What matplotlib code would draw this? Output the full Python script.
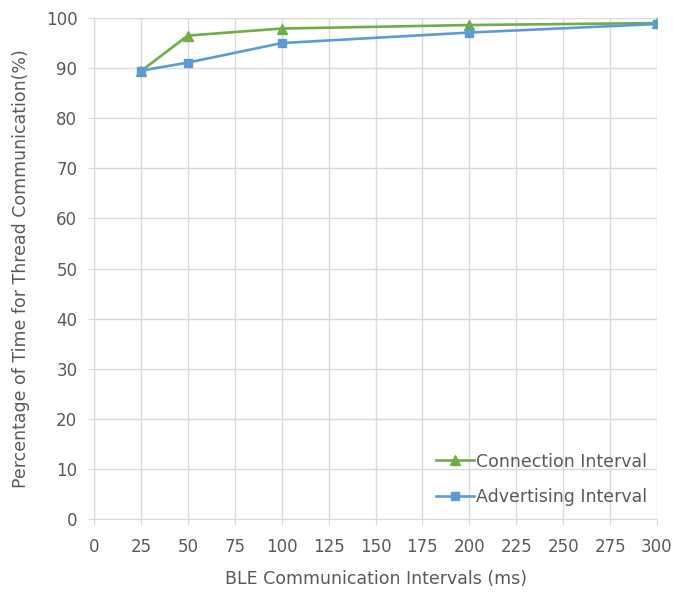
import matplotlib.pyplot as plt

intervals = [25, 50, 100, 200, 300]
connection = [89.4, 96.5, 97.9, 98.6, 99.0]
advertising = [89.5, 91.1, 95.0, 97.1, 98.8]
xticks = list(range(0, 301, 25))
yticks = list(range(0, 101, 10))

plt.rcParams['font.family'] = ['DejaVu Sans']
txt = '#595959'
fig = plt.figure(figsize=(6.73, 5.93), dpi=100)
ax = fig.add_axes([0.1397, 0.1248, 0.8365, 0.8448])

ax.plot(intervals, connection, color='#70ad47', lw=1.9, marker='^', ms=7, label='Connection Interval')
ax.plot(intervals, advertising, color='#5b9bd5', lw=1.9, marker='s', ms=6, label='Advertising Interval')

ax.set_xlim(0, 300)
ax.set_ylim(0, 100)
ax.set_xticks(xticks)
ax.set_yticks(yticks)
ax.grid(True, color='#d9d9d9', lw=1)
ax.set_axisbelow(True)
for s in ['top', 'right']:
    ax.spines[s].set_visible(False)
for s in ['left', 'bottom']:
    ax.spines[s].set_color('#d9d9d9')
ax.tick_params(axis='x', colors=txt, labelsize=12, length=4, color='#d9d9d9', pad=10)
ax.tick_params(axis='y', colors=txt, labelsize=12, length=4, color='#d9d9d9', pad=8)
ax.set_xlabel('BLE Communication Intervals (ms)', color=txt, fontsize=12.5, labelpad=10)
ax.set_ylabel('Percentage of Time for Thread Communication(%)', color=txt, fontsize=12.5, labelpad=11)
leg = ax.legend(loc='lower right', bbox_to_anchor=(1.01, -0.005), frameon=False, fontsize=12.5,
                handlelength=2.2, handletextpad=0.1, labelspacing=1.0)
for t in leg.get_texts():
    t.set_color(txt)

fig.savefig('out.png', dpi=100)
